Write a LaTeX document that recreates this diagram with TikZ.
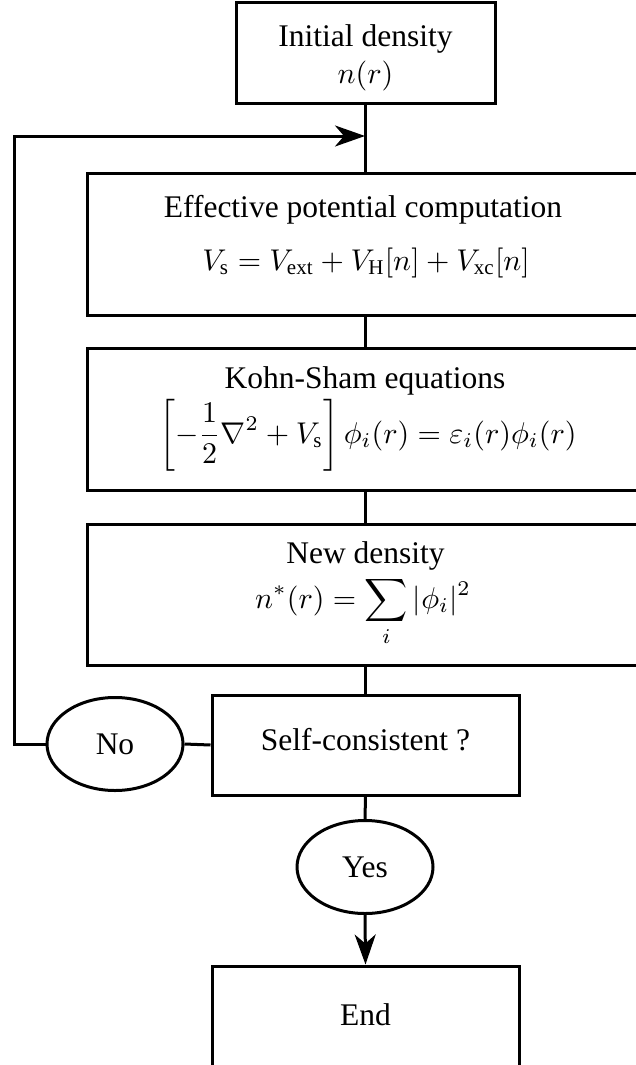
\documentclass[tikz,border=0pt]{standalone}
\usepackage{amsmath}
\usepackage{graphicx}
\usepackage{fontspec}
\setmainfont{Liberation Serif}
\usetikzlibrary{arrows.meta,shapes.geometric}
\newcommand{\bigtxt}[1]{\scalebox{3.15}{\fontsize{10}{12}\selectfont #1}}
\newcommand{\bigmath}[1]{\scalebox{3.0}{\fontsize{10}{12}\selectfont #1}}
\tikzset{
  box/.style={draw, rectangle, inner sep=0pt},
  oval/.style={draw, ellipse, inner sep=0pt, minimum width=136pt, minimum height=93pt},
  lbl/.style={inner sep=0pt, anchor=base},
  arr/.style={-{Stealth[length=30pt,width=21pt,inset=9pt]}},
}
\begin{document}
\begin{tikzpicture}[x=1pt,y=-1pt,line width=3pt]
\useasboundingbox (0,0) rectangle (636,1065);
\clip (0,0) rectangle (636,1065);
% boxes
\node[box, minimum width=259pt, minimum height=100pt] (init) at (365.5,53) {};
\node[box, minimum width=640pt, minimum height=142pt] (eff) at (407,244) {};
\node[box, minimum width=640pt, minimum height=142pt] (ks) at (407,419) {};
\node[box, minimum width=640pt, minimum height=141pt] (nd) at (407,594.5) {};
\node[box, minimum width=307pt, minimum height=100pt] (sc) at (365.5,745) {};
\node[box, minimum width=307pt, minimum height=140pt] (end) at (365.5,1036) {};
\node[oval] (no) at (115,744) {\bigtxt{No}};
\node[oval] (yes) at (365,867) {\bigtxt{Yes}};
% texts
\node[lbl] (initt) at (365.5,47) {\bigtxt{Initial density}};
\node[lbl] (initm) at (365.5,83) {\bigmath{$n(r)$}};
\node[lbl] (efft) at (363,217) {\bigtxt{Effective potential computation}};
\node[lbl] (effm) at (366,270) {\bigmath{$V_{\mathrm{s}} = V_{\mathrm{ext}} + V_{\mathrm{H}}[n] + V_{\mathrm{xc}}[n]$}};
\node[lbl] (kst) at (365,388) {\bigtxt{Kohn-Sham equations}};
\node[lbl] (ksm) at (368,443) {\bigmath{$\displaystyle \left[-\frac{1}{2}\nabla^2 + V_{\mathrm{s}}\right]\phi_i(r) = \varepsilon_i(r)\phi_i(r)$}};
\node[lbl] (ndt) at (365.5,563) {\bigtxt{New density}};
\node[lbl] (ndm) at (363,608) {\bigmath{$\displaystyle n^*(r) = \sum_i |\phi_i|^2$}};
\node[lbl] (sct) at (365.5,750) {\bigtxt{Self-consistent ?}};
\node[lbl] (endt) at (365.5,1025) {\bigtxt{End}};
% connectors
\coordinate (join) at (365,136);
\coordinate (fb) at (14,136);
\draw (init.south) -- (eff.north -| init.south);
\draw (eff.south -| init.south) -- (ks.north -| init.south);
\draw (ks.south -| init.south) -- (nd.north -| init.south);
\draw (nd.south -| init.south) -- (sc.north);
\draw (sc.west) -- (no.east);
\draw[arr] (no.west) -| (fb) -- (join);
\draw (sc.south) -- (yes.north);
\draw[arr] (yes.south) -- (end.north);
\end{tikzpicture}
\end{document}
